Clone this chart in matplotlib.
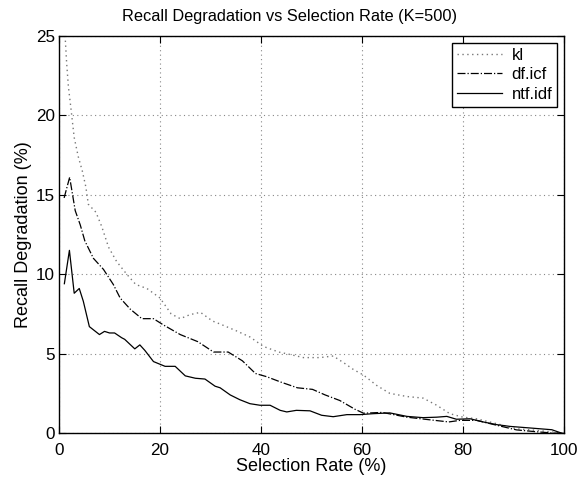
import matplotlib
matplotlib.use("Agg")
import matplotlib.pyplot as plt

# values (selection rate %, recall degradation %)
kl_x = [1.25, 1.5, 1.85, 2.4, 3.0, 3.8, 4.6, 5.3, 5.8, 7.3, 8.45, 9.8, 11.4, 13.4,
        15.2, 17.4, 20, 22.2, 24.0, 25.9, 28.0, 30.4, 32.0, 35.0, 37.8, 40.5,
        43.5, 45.7, 48.4, 51.7, 54.3, 56.5, 58.3, 60.3, 62.9, 65.5, 68.9, 72.1,
        74.8, 77.4, 80, 82.7, 86.7, 90.6, 94.6, 97.9, 100]
kl_y = [24.7, 23.3, 21.8, 20.3, 18.6, 17.4, 16.5, 15.5, 14.4, 13.9, 13.0, 11.7, 10.8, 10.0,
        9.35, 9.1, 8.5, 7.5, 7.2, 7.45, 7.6, 7.05, 6.85, 6.45, 6.05, 5.45,
        5.1, 4.95, 4.75, 4.75, 4.85, 4.4, 4.0, 3.65, 3.0, 2.5, 2.3, 2.2,
        1.75, 1.22, 1.0, 0.9, 0.59, 0.27, 0.17, 0.06, 0.0]

dficf_x = [1.0, 2.1, 3.2, 4.2, 5.1, 6.8, 8.8, 10.75, 12.1, 14.1, 16.4, 18.7, 20.7, 24,
           27.5, 30.6, 33.5, 36.3, 38.9, 41.1, 44.0, 47.2, 50.2, 52.7, 55.6, 58.6, 60.3,
           64.0, 68.9, 73.0, 77.2, 79.4, 82.7, 86.7, 90.6, 94.6, 97.9, 100]
dficf_y = [14.8, 16.1, 14.0, 13.1, 12.1, 11.0, 10.3, 9.35, 8.5, 7.8, 7.2, 7.2, 6.8, 6.2,
           5.75, 5.1, 5.1, 4.55, 3.75, 3.55, 3.2, 2.85, 2.75, 2.4, 2.05, 1.5, 1.25,
           1.3, 1.0, 0.85, 0.7, 0.8, 0.8, 0.49, 0.2, 0.08, 0.0, 0.0]

ntf_x = [1.05, 2.05, 3.0, 4.0, 4.8, 6.0, 8.0, 9.0, 10.0, 11.0, 12.4, 13.0, 15.0, 16.0,
         17.0, 18.7, 21.0, 23.0, 25.0, 27.0, 28.9, 30.9, 31.9, 33.9, 35.8, 37.8, 39.8,
         41.8, 43.8, 45.1, 47.0, 49.7, 52.0, 54.3, 57.0, 59.6, 62.2, 65.5, 68.9, 72.1,
         74.8, 76.8, 78.7, 81.4, 84.0, 86.7, 89.3, 93.3, 97.6, 99.5]
ntf_y = [9.4, 11.5, 8.8, 9.1, 8.3, 6.7, 6.2, 6.4, 6.3, 6.3, 6.0, 5.9, 5.3, 5.55,
         5.2, 4.5, 4.2, 4.2, 3.6, 3.45, 3.4, 2.95, 2.85, 2.4, 2.1, 1.85, 1.75,
         1.75, 1.43, 1.33, 1.43, 1.4, 1.12, 1.03, 1.16, 1.16, 1.22, 1.27, 1.05, 0.97,
         1.0, 1.05, 0.87, 0.9, 0.7, 0.53, 0.42, 0.32, 0.21, 0.0]

xticks = [0, 20, 40, 60, 80, 100]
yticks = [0, 5, 10, 15, 20, 25]

plt.rcParams["font.family"] = ["Liberation Sans", "DejaVu Sans"]
plt.rcParams["font.size"] = 12.3

fig = plt.figure(figsize=(5.79, 4.78), dpi=100)
ax = fig.add_axes([0.102, 0.094, 0.872, 0.831])

ax.plot(kl_x, kl_y, linestyle=(0, (1, 2.5)), color="#777777", lw=1.0, label="kl")
ax.plot(dficf_x, dficf_y, "-.", color="black", lw=0.9, label="df.icf")
ax.plot(ntf_x, ntf_y, "-", color="black", lw=0.9, label="ntf.idf")

ax.set_xlim(0, 100)
ax.set_ylim(0, 25)
ax.set_xticks(xticks)
ax.set_yticks(yticks)
ax.tick_params(axis="x", direction="in", length=5, top=True, pad=7)
ax.tick_params(axis="y", direction="in", length=5, right=True, pad=3)
ax.grid(True, linestyle=(0, (1, 3)), color="#888888", lw=0.8)
for s in ax.spines.values():
    s.set_linewidth(1.0)

ax.set_xlabel("Selection Rate (%)", fontsize=13, labelpad=0)
ax.set_ylabel("Recall Degradation (%)", fontsize=13, labelpad=3)
fig.text(0.5, 1 - 21 / 478, "Recall Degradation vs Selection Rate (K=500)",
         fontsize=11.8, ha="center", va="baseline")

leg = ax.legend(loc="upper right", fancybox=False, edgecolor="black",
                framealpha=1, handlelength=2.7, handletextpad=0.6,
                borderaxespad=0.4, labelspacing=0.27, borderpad=0.3,
                fontsize=12)
leg.get_frame().set_linewidth(1.0)

fig.savefig("out.png", dpi=100)
